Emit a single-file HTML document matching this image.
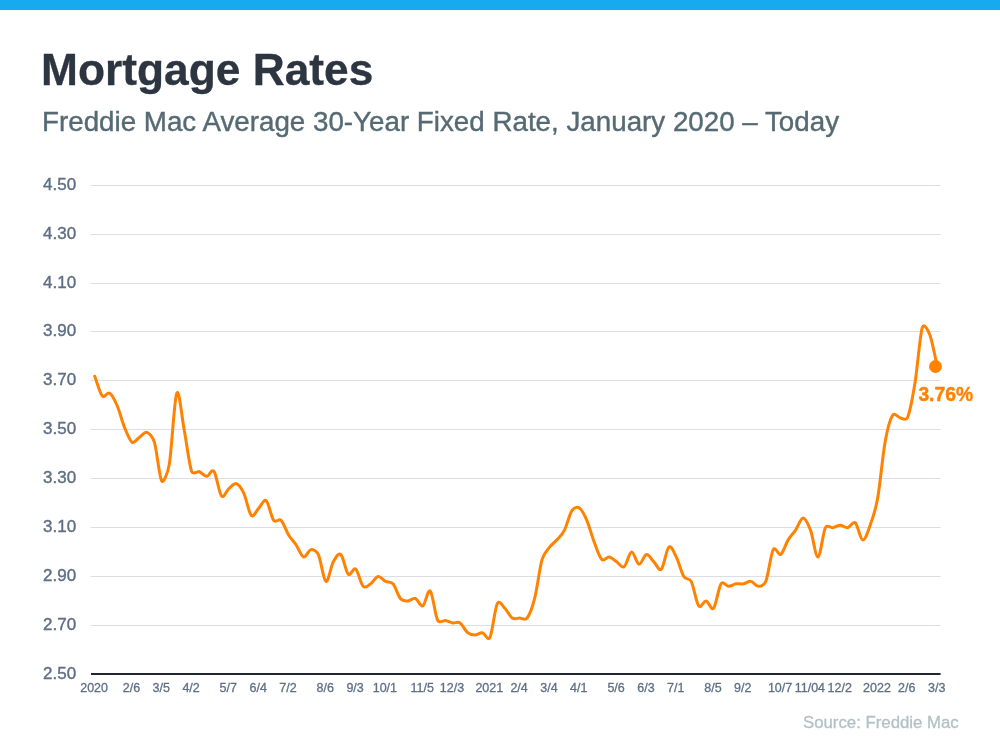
<!DOCTYPE html>
<html><head><meta charset="utf-8"><title>Mortgage Rates</title>
<style>
html,body{margin:0;padding:0;background:#fff;}
body{width:1000px;height:750px;overflow:hidden;position:relative;font-family:"Liberation Sans",sans-serif;}
.bar{position:absolute;left:0;top:0;width:1000px;height:10px;background:#16abef;}
h1{position:absolute;left:41px;top:44.8px;margin:0;font-size:44.3px;line-height:50px;font-weight:bold;color:#2c3540;white-space:nowrap;-webkit-text-stroke:0.3px #2c3540;}
h2{position:absolute;left:42px;top:106.4px;margin:0;font-size:27.76px;line-height:32px;font-weight:normal;color:#566a73;white-space:nowrap;-webkit-text-stroke:0.4px #566a73;}
#w{position:absolute;left:0;top:0;width:1000px;height:750px;will-change:transform;}
svg{position:absolute;left:0;top:0;}
.yl text{font-size:17px;fill:#5f6f85;stroke:#5f6f85;stroke-width:0.4px;}
.xl text{font-size:12.5px;fill:#5f6f85;text-anchor:middle;stroke:#5f6f85;stroke-width:0.3px;}
.src{position:absolute;left:803px;top:712.5px;font-size:16.8px;line-height:20px;color:#b3c0c6;white-space:nowrap;-webkit-text-stroke:0.3px #b3c0c6;}
</style></head><body>
<div class="bar"></div>
<div id="w">
<h1>Mortgage Rates</h1>
<h2>Freddie Mac Average 30-Year Fixed Rate, January 2020 – Today</h2>
<svg width="1000" height="750" viewBox="0 0 1000 750" font-family="Liberation Sans, sans-serif">
<g><rect x="90.6" y="185" width="850" height="1" fill="#dbdfe4"/><rect x="90.6" y="234" width="850" height="1" fill="#dbdfe4"/><rect x="90.6" y="283" width="850" height="1" fill="#dbdfe4"/><rect x="90.6" y="331" width="850" height="1" fill="#dbdfe4"/><rect x="90.6" y="380" width="850" height="1" fill="#dbdfe4"/><rect x="90.6" y="429" width="850" height="1" fill="#dbdfe4"/><rect x="90.6" y="478" width="850" height="1" fill="#dbdfe4"/><rect x="90.6" y="527" width="850" height="1" fill="#dbdfe4"/><rect x="90.6" y="576" width="850" height="1" fill="#dbdfe4"/><rect x="90.6" y="625" width="850" height="1" fill="#dbdfe4"/></g>
<rect x="91" y="673" width="849.6" height="2" fill="#1f2833"/>
<g class="yl"><text x="43.0" y="190.0">4.50</text><text x="43.0" y="239.0">4.30</text><text x="43.0" y="288.0">4.10</text><text x="43.0" y="336.0">3.90</text><text x="43.0" y="385.0">3.70</text><text x="43.0" y="434.0">3.50</text><text x="43.0" y="483.0">3.30</text><text x="43.0" y="532.0">3.10</text><text x="43.0" y="581.0">2.90</text><text x="43.0" y="630.0">2.70</text><text x="43.0" y="678.5">2.50</text></g>
<g class="xl"><text x="94.1" y="692">2020</text><text x="131.4" y="692">2/6</text><text x="161.2" y="692">3/5</text><text x="191.1" y="692">4/2</text><text x="228.3" y="692">5/7</text><text x="258.2" y="692">6/4</text><text x="288.0" y="692">7/2</text><text x="325.3" y="692">8/6</text><text x="355.1" y="692">9/3</text><text x="384.9" y="692">10/1</text><text x="422.2" y="692">11/5</text><text x="452.0" y="692">12/3</text><text x="489.3" y="692">2021</text><text x="519.1" y="692">2/4</text><text x="549.0" y="692">3/4</text><text x="578.8" y="692">4/1</text><text x="616.1" y="692">5/6</text><text x="645.9" y="692">6/3</text><text x="675.7" y="692">7/1</text><text x="713.0" y="692">8/5</text><text x="742.8" y="692">9/2</text><text x="780.1" y="692">10/7</text><text x="809.9" y="692">11/04</text><text x="839.7" y="692">12/2</text><text x="877.0" y="692">2022</text><text x="906.8" y="692">2/6</text><text x="936.7" y="692">3/3</text></g>
<path d="M94.73 376.21 C97.21 382.73 99.70 392.91 102.18 395.75 C104.67 398.60 107.15 391.68 109.64 393.31 C112.13 394.94 114.61 399.83 117.10 405.52 C119.58 411.22 122.07 421.40 124.55 427.51 C127.04 433.61 129.52 440.53 132.01 442.16 C134.49 443.79 136.98 438.91 139.46 437.28 C141.95 435.65 144.44 431.58 146.92 432.39 C148.72 432.98 152.58 436.29 154.38 442.16 C156.86 450.30 159.35 477.58 161.83 481.24 C163.39 483.54 167.73 473.34 169.29 464.15 C171.77 449.49 174.26 399.01 176.75 393.31 C179.23 387.61 181.72 416.92 184.20 429.95 C186.69 442.98 189.17 464.55 191.66 471.47 C192.92 474.98 197.85 471.06 199.11 471.47 C201.60 472.29 204.08 476.36 206.57 476.36 C209.06 476.36 211.54 468.22 214.03 471.47 C216.51 474.73 219.00 493.05 221.48 495.90 C223.97 498.75 226.45 490.61 228.94 488.57 C231.42 486.53 233.91 482.87 236.39 483.69 C238.88 484.50 241.37 488.16 243.85 493.45 C246.34 498.75 248.82 513.00 251.31 515.44 C253.79 517.88 256.28 510.55 258.76 508.11 C261.25 505.67 263.73 498.75 266.22 500.78 C268.70 502.82 271.19 517.07 273.68 520.32 C275.94 523.29 278.87 518.10 281.13 520.32 C283.62 522.76 286.10 530.91 288.59 534.98 C291.07 539.05 293.56 541.08 296.04 544.75 C298.53 548.41 301.01 556.15 303.50 556.96 C305.99 557.77 308.47 550.04 310.96 549.63 C312.85 549.32 316.52 550.48 318.41 554.52 C320.90 559.81 323.38 580.16 325.87 581.39 C328.35 582.61 330.84 566.32 333.32 561.85 C335.81 557.37 338.30 552.48 340.78 554.52 C343.27 556.55 345.75 571.62 348.24 574.06 C350.72 576.50 353.21 567.14 355.69 569.17 C358.18 571.21 360.66 583.83 363.15 586.27 C365.63 588.71 368.12 585.46 370.61 583.83 C373.09 582.20 375.58 576.91 378.06 576.50 C380.55 576.09 383.03 580.16 385.52 581.39 C388.00 582.61 390.49 580.98 392.97 583.83 C395.46 586.68 397.94 595.63 400.43 598.48 C402.92 601.33 405.40 600.93 407.89 600.93 C410.37 600.93 412.86 597.67 415.34 598.48 C417.83 599.30 420.31 607.03 422.80 605.81 C425.28 604.59 427.77 588.71 430.25 591.16 C432.74 593.60 435.23 615.58 437.71 620.47 C439.40 623.79 443.48 620.19 445.17 620.47 C447.65 620.87 450.14 622.50 452.62 622.91 C455.11 623.31 457.59 621.28 460.08 622.91 C462.56 624.54 465.05 630.64 467.54 632.68 C470.02 634.71 472.51 635.12 474.99 635.12 C477.48 635.12 479.96 632.27 482.45 632.68 C484.47 633.01 487.88 641.53 489.90 637.56 C492.39 632.68 494.87 608.25 497.36 603.37 C499.38 599.40 502.79 606.27 504.82 608.25 C507.30 610.70 509.79 616.39 512.27 618.02 C514.76 619.65 517.24 618.02 519.73 618.02 C521.99 618.02 524.92 620.99 527.18 618.02 C529.67 614.77 532.15 608.25 534.64 598.48 C537.13 588.71 539.61 567.95 542.10 559.40 C544.09 552.53 547.56 549.81 549.55 547.19 C552.04 543.93 554.52 542.71 557.01 539.86 C559.49 537.01 561.98 534.98 564.46 530.09 C566.95 525.21 569.44 514.22 571.92 510.55 C574.12 507.31 577.17 506.67 579.38 508.11 C581.86 509.74 584.35 514.62 586.83 520.32 C589.32 526.02 591.80 535.79 594.29 542.31 C596.77 548.82 599.26 556.96 601.75 559.40 C604.23 561.85 606.72 556.55 609.20 556.96 C611.69 557.37 614.17 560.22 616.66 561.85 C619.14 563.47 621.63 568.36 624.11 566.73 C626.60 565.10 629.08 552.48 631.57 552.08 C634.06 551.67 636.54 563.88 639.03 564.29 C641.51 564.69 644.00 554.92 646.48 554.52 C648.97 554.11 651.45 559.40 653.94 561.85 C656.42 564.29 658.91 571.62 661.39 569.17 C663.88 566.73 666.37 549.23 668.85 547.19 C671.34 545.15 673.82 552.08 676.31 556.96 C678.79 561.85 681.28 572.43 683.76 576.50 C686.09 580.30 689.20 577.41 691.22 581.39 C693.70 586.27 696.19 602.55 698.68 605.81 C701.16 609.07 703.65 600.52 706.13 600.93 C708.62 601.33 711.10 611.10 713.59 608.25 C716.07 605.40 718.56 587.49 721.04 583.83 C723.25 580.58 726.30 586.27 728.50 586.27 C730.99 586.27 733.47 584.23 735.96 583.83 C738.44 583.42 740.93 584.23 743.41 583.83 C745.90 583.42 748.38 580.98 750.87 581.39 C753.35 581.79 755.84 586.27 758.32 586.27 C760.00 586.27 764.10 585.51 765.78 581.39 C768.27 575.28 770.75 554.11 773.24 549.63 C775.40 545.74 778.53 555.93 780.69 554.52 C783.18 552.89 785.66 543.93 788.15 539.86 C790.63 535.79 793.12 533.76 795.61 530.09 C798.09 526.43 800.58 517.88 803.06 517.88 C805.55 517.88 808.03 523.58 810.52 530.09 C813.00 536.61 815.49 557.37 817.97 556.96 C820.46 556.55 822.94 532.53 825.43 527.65 C827.12 524.33 831.20 527.93 832.89 527.65 C835.37 527.24 837.86 525.21 840.34 525.21 C842.83 525.21 845.31 528.06 847.80 527.65 C850.28 527.24 852.77 520.73 855.25 522.76 C857.74 524.80 860.23 539.46 862.71 539.86 C865.20 540.27 867.68 532.13 870.17 525.21 C872.63 518.35 875.16 512.06 877.62 498.34 C880.11 484.50 882.59 456.00 885.08 442.16 C887.54 428.44 890.07 419.33 892.54 415.30 C894.58 411.95 897.95 417.40 899.99 417.74 C901.48 417.98 905.96 421.15 907.45 417.74 C909.93 412.04 912.42 398.60 914.90 383.54 C917.39 368.48 919.87 335.51 922.36 327.37 C923.89 322.37 927.95 329.81 929.82 334.69 C932.30 341.21 934.79 355.86 937.27 366.45" fill="none" stroke="#ff8202" stroke-width="3" stroke-linecap="round" stroke-linejoin="round"/>
<circle cx="935.5" cy="366.5" r="6.45" fill="#ff8202"/>
<text x="918.4" y="401" font-size="19.3" font-weight="bold" fill="#ff8202" stroke="#ff8202" stroke-width="0.4">3.76%</text>
</svg>
<div class="src">Source: Freddie Mac</div>
</div>
</body></html>
